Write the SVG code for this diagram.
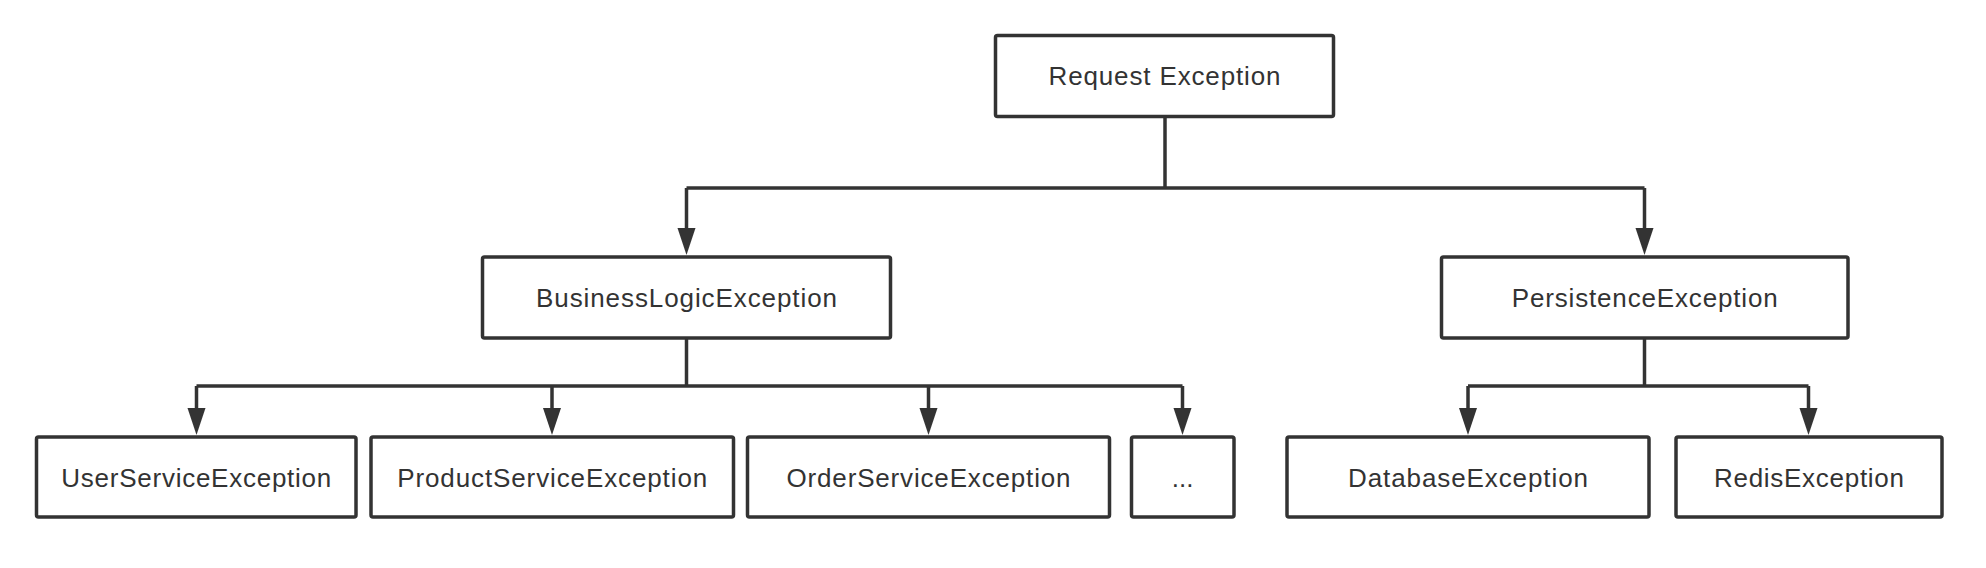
<svg xmlns="http://www.w3.org/2000/svg" width="1986" height="568" viewBox="0 0 1986 568">
<style>
.box{fill:#ffffff;stroke:#333333;stroke-width:3.5}
.lbl{font-family:"Liberation Sans",Arial,sans-serif;font-size:26px;fill:#333333;text-anchor:middle}
.con{fill:none;stroke:#333333;stroke-width:3.5;stroke-linejoin:miter}
.arr{fill:none;stroke:#333333;stroke-width:3.5;marker-end:url(#ah)}
</style>
<defs>
<marker id="ah" markerUnits="userSpaceOnUse" markerWidth="28" markerHeight="20" refX="0" refY="9" orient="auto" viewBox="0 0 28 18" overflow="visible">
<path d="M0,0 L27,9 L0,18 Z" fill="#333333"/>
</marker>
</defs>
<rect width="1986" height="568" fill="#ffffff"/>
<g id="connectors">
<path class="con" d="M1165,117 V188"/>
<path class="con" d="M686.5,188 H1644.5"/>
<path class="arr" d="M686.5,188 V228"/>
<path class="arr" d="M1644.5,188 V228"/>
<path class="con" d="M686.5,338 V386"/>
<path class="con" d="M196.5,386 H1182.5"/>
<path class="arr" d="M196.5,386 V408"/>
<path class="arr" d="M552,386 V408"/>
<path class="arr" d="M928.5,386 V408"/>
<path class="arr" d="M1182.5,386 V408"/>
<path class="con" d="M1644.5,338 V386"/>
<path class="con" d="M1468,386 H1808.5"/>
<path class="arr" d="M1468,386 V408"/>
<path class="arr" d="M1808.5,386 V408"/>
</g>
<g id="request-exception">
<rect class="box" x="995.5" y="35.5" width="338" height="81" rx="2"/>
<text class="lbl" x="1164.5" y="85" textLength="232" lengthAdjust="spacing">Request Exception</text>
</g>
<g id="business-logic-exception">
<rect class="box" x="482.5" y="257" width="408" height="81" rx="2"/>
<text class="lbl" x="686.5" y="307" textLength="301" lengthAdjust="spacing">BusinessLogicException</text>
</g>
<g id="persistence-exception">
<rect class="box" x="1441.5" y="257" width="406.5" height="81" rx="2"/>
<text class="lbl" x="1644.7" y="307" textLength="266" lengthAdjust="spacing">PersistenceException</text>
</g>
<g id="user-service-exception">
<rect class="box" x="36.5" y="437" width="319.5" height="80" rx="2"/>
<text class="lbl" x="196.3" y="487" textLength="270" lengthAdjust="spacing">UserServiceException</text>
</g>
<g id="product-service-exception">
<rect class="box" x="371" y="437" width="362.5" height="80" rx="2"/>
<text class="lbl" x="552.2" y="487" textLength="310" lengthAdjust="spacing">ProductServiceException</text>
</g>
<g id="order-service-exception">
<rect class="box" x="747.5" y="437" width="362" height="80" rx="2"/>
<text class="lbl" x="928.5" y="487" textLength="284" lengthAdjust="spacing">OrderServiceException</text>
</g>
<g id="more-exceptions">
<rect class="box" x="1131.5" y="437" width="102.5" height="80" rx="2"/>
<text class="lbl" x="1182.7" y="487">...</text>
</g>
<g id="database-exception">
<rect class="box" x="1287" y="437" width="362" height="80" rx="2"/>
<text class="lbl" x="1468" y="487" textLength="240" lengthAdjust="spacing">DatabaseException</text>
</g>
<g id="redis-exception">
<rect class="box" x="1676" y="437" width="266" height="80" rx="2"/>
<text class="lbl" x="1809" y="487" textLength="190" lengthAdjust="spacing">RedisException</text>
</g>
</svg>
